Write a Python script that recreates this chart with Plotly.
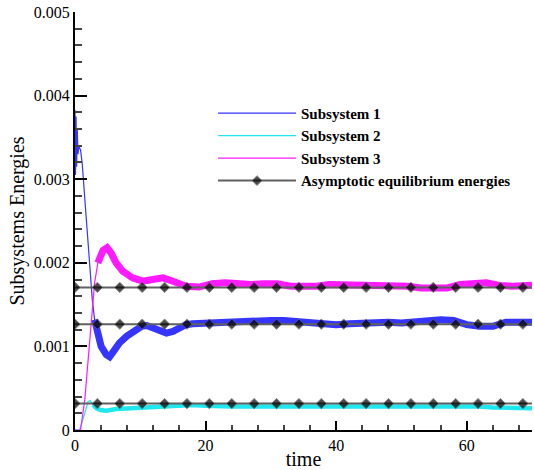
import plotly.graph_objects as go

# ---- data (energies in units of 1e-3, time) ----
t_s1 = [0, 0.08, 0.16, 0.25, 0.35, 0.45, 0.6, 0.85, 1.1, 1.3, 1.6, 1.85, 2.25, 2.65,
        3.0, 3.5, 4.0, 4.8, 5.3, 5.9, 6.8, 7.9, 8.9, 10.2, 11.0, 12.0, 13.0, 14.0, 15.0,
        16.0, 17.0, 18, 20, 22, 24, 26, 28, 30, 32, 34, 36, 38, 40, 42, 44, 46, 48, 50,
        52, 54, 56, 58, 60, 62, 64, 66, 68, 70]
e_s1 = [3.83, 3.05, 3.75, 3.15, 3.6, 3.3, 3.39, 3.35, 3.19, 2.99, 2.63, 2.36, 1.95, 1.56,
        1.32, 1.16, 1.00, 0.90, 0.875, 0.94, 1.04, 1.12, 1.18, 1.24, 1.25, 1.22, 1.18, 1.16, 1.18,
        1.23, 1.26, 1.27, 1.28, 1.28, 1.30, 1.31, 1.30, 1.31, 1.31, 1.30, 1.29, 1.26, 1.26, 1.27,
        1.28, 1.28, 1.29, 1.28, 1.30, 1.30, 1.32, 1.31, 1.26, 1.24, 1.24, 1.29, 1.30, 1.29]

t_s2 = [0, 0.7, 1.5, 2.0, 2.35, 2.75, 3.3, 3.9, 4.8, 6.3, 8.9, 10, 12, 14, 16, 18, 20, 22,
        24, 26, 28, 30, 32, 34, 36, 38, 40, 42, 44, 46, 48, 50, 52, 54, 56, 58, 60, 62, 64,
        66, 68, 70]
e_s2 = [0, 0, 0.20, 0.34, 0.35, 0.30, 0.26, 0.24, 0.23, 0.25, 0.26, 0.27, 0.28, 0.29, 0.29,
        0.30, 0.29, 0.28, 0.28, 0.28, 0.28, 0.28, 0.28, 0.28, 0.28, 0.28, 0.28, 0.29, 0.29,
        0.28, 0.29, 0.29, 0.28, 0.28, 0.29, 0.28, 0.28, 0.28, 0.27, 0.27, 0.27, 0.26]

t_s3 = [0, 0.85, 1.5, 2.0, 2.5, 3.0, 3.5, 4.3, 4.9, 5.5, 6.3, 7.3, 8.8, 10.4, 11.9, 13.5,
        15, 17, 19, 21, 23, 25, 27, 29, 31, 33, 35, 37, 39, 41, 43, 45, 47, 49, 51, 53, 55,
        57, 59, 61, 63, 65, 67, 70]
e_s3 = [0, 0, 0.36, 0.84, 1.36, 1.76, 2.0, 2.15, 2.18, 2.12, 2.0, 1.90, 1.82, 1.78, 1.80,
        1.82, 1.78, 1.72, 1.71, 1.75, 1.76, 1.74, 1.74, 1.75, 1.75, 1.72, 1.71, 1.72, 1.74,
        1.74, 1.74, 1.72, 1.72, 1.72, 1.72, 1.70, 1.70, 1.70, 1.74, 1.75, 1.76, 1.73, 1.72, 1.73]

eq_levels = [1.706, 1.266, 0.316]
t_eq_markers = [0, 3.43, 6.86, 10.29, 13.72, 17.15, 20.58, 24.01, 27.44, 30.87, 34.3,
                37.73, 41.16, 44.59, 48.02, 51.45, 54.88, 58.31, 61.74, 65.17, 68.6]
t_end = 70

names = ["Subsystem 1", "Subsystem 2", "Subsystem 3", "Asymptotic equilibrium energies"]
colors = ["#3535ff", "#1ee8ee", "#ff1aff"]
band_start = [3.0, 2.5, 3.5]
band_width = [7, 4.5, 7]

SCALE = 1e-3
FONT = "Liberation Serif, Times New Roman, serif"

fig = go.Figure()
series = [(t_s1, e_s1), (t_s2, e_s2), (t_s3, e_s3)]
for i in range(3):
    t, e = series[i]
    y = [v * SCALE for v in e]
    # noisy band (settled part) drawn as a thick stroke
    tb = [tt for tt in t if tt >= band_start[i]]
    yb = [yy for tt, yy in zip(t, y) if tt >= band_start[i]]
    fig.add_trace(go.Scatter(x=tb, y=yb, mode="lines", showlegend=False,
                             line=dict(color=colors[i], width=band_width[i]),
                             hoverinfo="skip"))
    fig.add_trace(go.Scatter(x=t, y=y, mode="lines", name=names[i],
                             line=dict(color=colors[i], width=1.2)))

for k, lvl in enumerate(eq_levels):
    xs = t_eq_markers + [t_end]
    ys = [lvl * SCALE] * len(xs)
    sizes = [8] * len(t_eq_markers) + [0]
    fig.add_trace(go.Scatter(x=xs, y=ys, mode="lines+markers", name=names[3],
                             legendgroup="eq", showlegend=(k == 0),
                             line=dict(color="#606060", width=2),
                             marker=dict(symbol="diamond", color="black", size=sizes)))

fig.update_layout(
    width=534, height=470,
    margin=dict(l=75, r=2, t=12, b=40, autoexpand=False),
    paper_bgcolor="white", plot_bgcolor="white",
    font=dict(family=FONT, size=16, color="black"),
    showlegend=True,
    legend=dict(x=0.302, y=0.797, xanchor="left", yanchor="top",
                bgcolor="rgba(0,0,0,0)", itemwidth=78, tracegroupgap=0,
                font=dict(family=FONT, size=15, color="black", weight="bold")),
    xaxis=dict(range=[0, 70], dtick=20, tick0=0, ticks="inside", ticklen=9, tickwidth=2,
               tickcolor="black", showline=True, linecolor="black", linewidth=2,
               showgrid=False, zeroline=False,
               minor=dict(dtick=4, ticks="inside", ticklen=5, tickwidth=1.5, tickcolor="#444"),
               title=dict(text="time", font=dict(size=20), standoff=4),
               tickfont=dict(size=16)),
    yaxis=dict(range=[0, 0.005], dtick=0.001, tick0=0, ticks="inside", ticklen=12, tickwidth=2,
               tickcolor="black", showline=True, linecolor="black", linewidth=2,
               showgrid=False, zeroline=False,
               minor=dict(dtick=0.0002, ticks="inside", ticklen=7, tickwidth=1.5, tickcolor="#444"),
               title=dict(text="Subsystems Energies", font=dict(size=20), standoff=4),
               tickfont=dict(size=16)),
)

fig.write_html("out.html")
